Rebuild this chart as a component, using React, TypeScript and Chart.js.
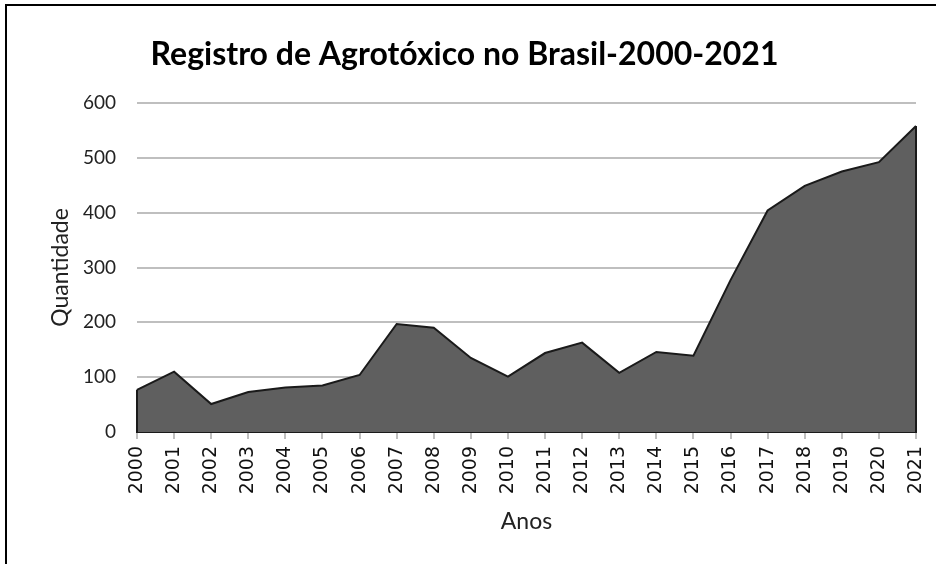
import React, { useEffect, useRef } from "react";
import { Chart, registerables } from "chart.js";

Chart.register(...registerables);

const years = ["2000","2001","2002","2003","2004","2005","2006","2007","2008","2009","2010","2011","2012","2013","2014","2015","2016","2017","2018","2019","2020","2021"];
const registros = [77, 110, 51, 73, 81, 85, 104, 197, 190, 135, 101, 144, 163, 108, 146, 139, 277, 404, 449, 475, 492, 558];
const yTicks = [0, 100, 200, 300, 400, 500, 600];

const TITLE = "Registro de Agrotóxico no Brasil-2000-2021";
const CAL = "Lato, 'Open Sans', sans-serif";

const areaEdges = {
  id: "areaEdges",
  afterDatasetsDraw(chart: any) {
    const meta = chart.getDatasetMeta(0);
    const pts = meta.data;
    if (!pts || !pts.length) return;
    const y0 = chart.scales.y.getPixelForValue(0);
    const ctx = chart.ctx;
    ctx.save();
    ctx.strokeStyle = "#1a1a1a";
    ctx.lineWidth = 2;
    [pts[0], pts[pts.length - 1]].forEach((p: any) => {
      ctx.beginPath();
      ctx.moveTo(p.x, p.y);
      ctx.lineTo(p.x, y0);
      ctx.stroke();
    });
    ctx.restore();
  },
};

export default function App() {
  const ref = useRef<HTMLCanvasElement | null>(null);
  useEffect(() => {
    if (!ref.current) return;
    const chart = new Chart(ref.current, {
      type: "line",
      data: {
        labels: years,
        datasets: [
          {
            label: "Quantidade",
            data: registros,
            fill: "origin",
            backgroundColor: "#5f5f5f",
            borderColor: "#1a1a1a",
            borderWidth: 2,
            pointRadius: 0,
            tension: 0,
          },
        ],
      },
      plugins: [areaEdges],
      options: {
        responsive: false,
        animation: false,
        devicePixelRatio: 1,
        layout: { padding: { left: 13, right: 20, top: 0, bottom: 0 } },
        plugins: {
          legend: { display: false },
          tooltip: { enabled: false },
          title: {
            display: true,
            text: TITLE,
            color: "#000",
            font: { family: CAL, size: 32, weight: "bold", lineHeight: 1.2 },
            padding: { top: 35, bottom: 29.6 },
          },
        },
        scales: {
          x: {
            offset: false,
            afterFit: (s: any) => { s.height = 132; s.paddingRight = 0; s.paddingLeft = 0; },
            grid: {
              display: true,
              drawOnChartArea: false,
              drawTicks: true,
              tickLength: 7,
              color: "#bfbfbf",
              lineWidth: 2,
            },
            border: { display: true, color: "#1a1a1a", width: 2 },
            ticks: {
              autoSkip: false,
              minRotation: 90,
              maxRotation: 90,
              padding: 7,
              color: "#111",
              font: { family: "'DejaVu Sans', sans-serif", size: 19 },
            },
            title: {
              display: true,
              text: "Anos",
              color: "#222",
              font: { family: CAL, size: 23, lineHeight: 1.2 },
              padding: { top: 0, bottom: 29 },
            },
          },
          y: {
            min: 0,
            max: 600,
            afterFit: (s: any) => { s.width = 124; },
            afterBuildTicks: (s: any) => { s.ticks = yTicks.map((v) => ({ value: v })); },
            grid: {
              display: true,
              drawTicks: false,
              color: "#bfbfbf",
              lineWidth: 2,
            },
            border: { display: false },
            ticks: {
              stepSize: 100,
              padding: 21,
              color: "#222",
              font: { family: CAL, size: 19 },
            },
            title: {
              display: true,
              text: "Quantidade",
              color: "#222",
              font: { family: CAL, size: 23, lineHeight: 1.2 },
              padding: { top: 34, bottom: 0 },
            },
          },
        },
      },
    });
    return () => chart.destroy();
  }, []);

  return (
    <div style={{ position: "fixed", left: 0, top: 0, width: 936, height: 564, overflow: "hidden", background: "#fff" }}>
      <div style={{ position: "absolute", left: 5, top: 4, width: 960, height: 600, border: "2px solid #000", boxSizing: "border-box" }} />
      <canvas ref={ref} width={936} height={564} style={{ position: "absolute", left: 0, top: 0, width: 936, height: 564 }} />
    </div>
  );
}
